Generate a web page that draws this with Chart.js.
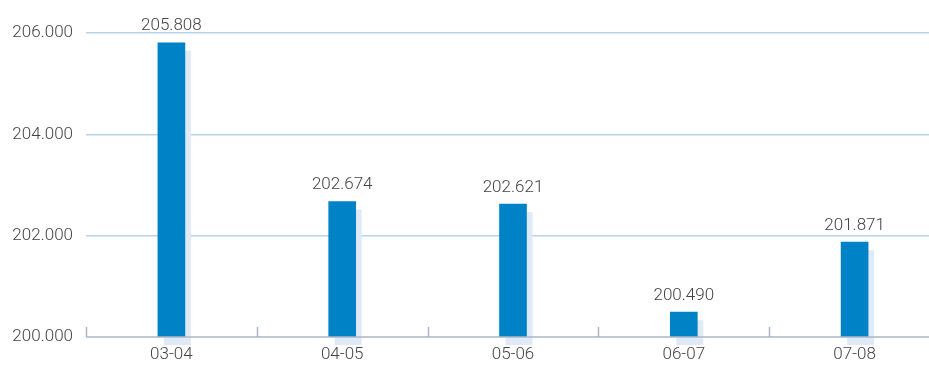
<!DOCTYPE html>
<html lang="en">
<head>
  <meta charset="UTF-8"/>
  <title>Bar chart</title>
  <script src="https://cdn.jsdelivr.net/npm/chart.js"></script>
  <style>
    html, body { margin: 0; padding: 0; background: #fff; overflow: hidden; }
    .wrap { position: relative; width: 942px; height: 365px; }
  </style>
</head>
<body>
  <div class="wrap"><canvas id="chart"></canvas></div>
  <script>
    const seasons = ['03-04', '04-05', '05-06', '06-07', '07-08']
    const values = [205808, 202674, 202621, 200490, 201871]
    const yTicks = [200000, 202000, 204000, 206000]

    const fmt = v => {
      const s = String(Math.round(v))
      return s.slice(0, s.length - 3) + '.' + s.slice(-3)
    }

    const font = { family: 'Roboto', size: 17, weight: '300' }
    const textColor = '#444'

    // light shadow behind each bar, data labels, and the bottom axis with ticks pointing up
    const decor = {
      id: 'decor',
      beforeDatasetsDraw(chart) {
        const ctx = chart.ctx, bottom = chart.chartArea.bottom
        ctx.save()
        ctx.fillStyle = '#dfeaf6'
        chart.getDatasetMeta(0).data.forEach(bar => {
          const w = bar.width
          ctx.fillRect(bar.x - w / 2 + 6, bar.y + 8, w, bottom - bar.y)
        })
        ctx.restore()
      },
      afterDatasetsDraw(chart) {
        const ctx = chart.ctx, area = chart.chartArea, x = chart.scales.x
        ctx.save()
        ctx.strokeStyle = '#aab6c8'
        ctx.lineWidth = 1.5
        ctx.beginPath()
        ctx.moveTo(area.left, area.bottom)
        ctx.lineTo(area.right, area.bottom)
        const half = (x.getPixelForValue(1) - x.getPixelForValue(0)) / 2
        for (let i = 0; i <= seasons.length; i++) {
          const px = Math.round(x.getPixelForValue(i) - half) + 0.5
          ctx.moveTo(px, area.bottom)
          ctx.lineTo(px, area.bottom - 10)
        }
        ctx.stroke()
        ctx.fillStyle = textColor
        ctx.font = `${font.weight} ${font.size}px ${font.family}`
        ctx.textAlign = 'center'
        ctx.textBaseline = 'bottom'
        chart.getDatasetMeta(0).data.forEach((bar, i) => {
          ctx.fillText(fmt(values[i]), bar.x, bar.y - 8)
        })
        ctx.restore()
      }
    }

    new Chart(document.getElementById('chart'), {
      type: 'bar',
      data: {
        labels: seasons,
        datasets: [{
          data: values,
          backgroundColor: '#0082c6',
          barThickness: 27,
          borderWidth: 0
        }]
      },
      options: {
        responsive: true,
        maintainAspectRatio: false,
        animation: false,
        layout: { padding: { top: 33, right: 2 } },
        plugins: { legend: { display: false }, tooltip: { enabled: false } },
        scales: {
          x: {
            grid: { display: false, drawTicks: false },
            border: { display: false },
            ticks: { color: textColor, font: font, padding: 8 },
            afterFit: s => { s.height = 28 }
          },
          y: {
            min: 200000,
            max: 206000,
            afterBuildTicks: s => { s.ticks = yTicks.map(v => ({ value: v })) },
            grid: {
              drawTicks: false,
              color: c => c.tick && c.tick.value === 200000 ? 'rgba(0,0,0,0)' : '#b7d3ea',
              lineWidth: 1.5
            },
            border: { display: false },
            ticks: { color: textColor, font: font, padding: 13, callback: v => fmt(v) },
            afterFit: s => { s.width = 86 }
          }
        }
      },
      plugins: [decor]
    })
  </script>
</body>
</html>
